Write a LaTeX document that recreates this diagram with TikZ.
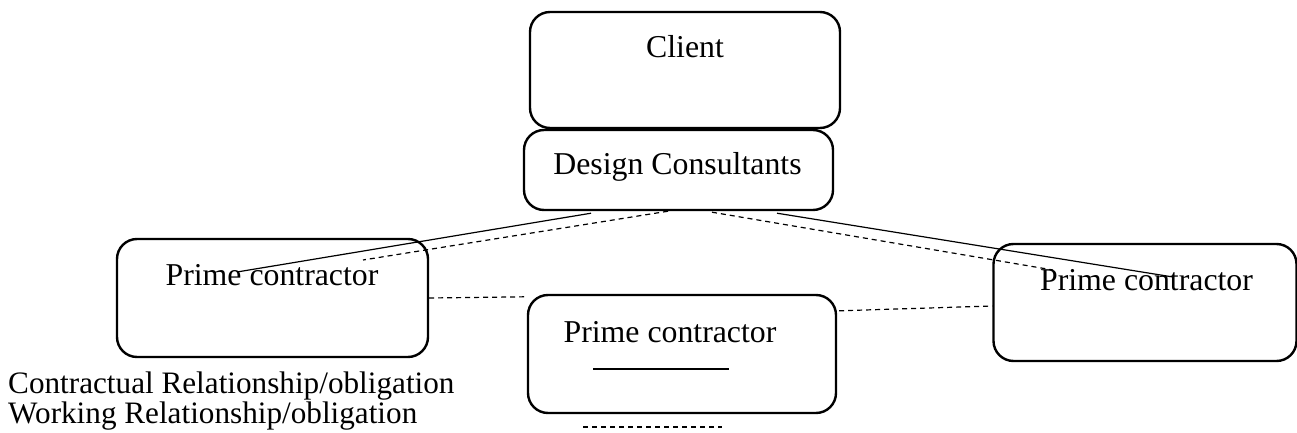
\documentclass[tikz,border=0pt]{standalone}
\usepackage{fontspec}
\setmainfont{Liberation Serif}
\usetikzlibrary{calc}
\begin{document}
\begin{tikzpicture}[x=1pt,y=-1pt,
  box/.style={draw,line width=2.4pt,rounded corners=20pt,rectangle,inner sep=0pt},
  lbl/.style={anchor=base,inner sep=0pt,font=\fontsize{31.8}{36}\selectfont},
  leg/.style={anchor=base west,inner sep=0pt,font=\fontsize{31.2}{36}\selectfont},
  con/.style={line width=1.2pt},
  wrk/.style={line width=1.2pt,dash pattern=on 5pt off 4pt}]
\useasboundingbox (0,0) rectangle (1297,433);
% boxes
\node[box,minimum width=310pt,minimum height=116pt] (cl) at (685,70) {};
\node[box,minimum width=309pt,minimum height=80pt] (dc) at (678.5,170) {};
\node[box,minimum width=311pt,minimum height=118pt] (lp) at (272.5,298) {};
\node[box,minimum width=308pt,minimum height=118pt] (mp) at (682,354) {};
\node[box,minimum width=303pt,minimum height=117pt] (rp) at (1145,302.5) {};
% texts
\node[lbl] (clt) at (685,58) {Client};
\node[lbl] (dct) at (677.5,174) {Design Consultants};
\node[lbl] (lpt) at (272,285) {Prime contractor};
\node[lbl] (mpt) at (670,342) {Prime contractor};
\node[lbl] (rpt) at (1146.5,290) {Prime contractor};
% legend
\node[leg] (leg1) at (8,393) {Contractual Relationship/obligation};
\node[leg] (leg2) at (8,423) {Working Relationship/obligation};
% connector end points
\coordinate (sl1) at ($(dc.south)+(-87.5,2)$);
\coordinate (sl2) at (237,272);
\coordinate (dl1) at ($(dc.south)+(-10.5,0)$);
\coordinate (dl2) at (363,260);
\coordinate (sr1) at ($(dc.south)+(98.5,2)$);
\coordinate (sr2) at (1173,277);
\coordinate (dr1) at ($(dc.south)+(33.5,1)$);
\coordinate (dr2) at (1053,270);
% connectors
\draw[con] (sl1) -- (sl2);
\draw[wrk] (dl1) -- (dl2);
\draw[con] (sr1) -- (sr2);
\draw[wrk] (dr1) -- (dr2);
\draw[wrk] (lp.east) -- ($(mp.north west)+(-1,3)$);
\draw[wrk] ($(mp.north east)+(2,17)$) -- ($(rp.west)+(0,3.5)$);
% legend samples
\coordinate (ls1) at (593,369);
\coordinate (ls2) at (729,369);
\coordinate (lw1) at (583,427);
\coordinate (lw2) at (722,427);
\draw[con] (ls1) -- (ls2);
\draw[wrk] (lw1) -- (lw2);
\end{tikzpicture}
\end{document}
